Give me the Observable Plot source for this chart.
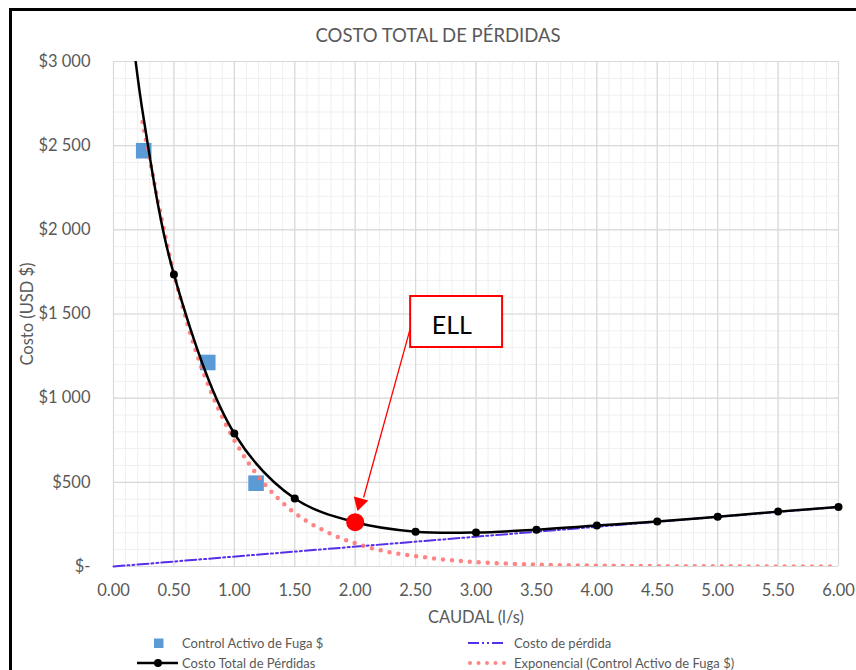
<!DOCTYPE html>
<html>
<head>
<meta charset="utf-8">
<script src="https://cdn.jsdelivr.net/npm/d3@7"></script>
<script src="https://cdn.jsdelivr.net/npm/@observablehq/plot@0.6"></script>
<style>
  body { margin: 0; background: #fff; font-family: Lato, "Open Sans", sans-serif; }
  #wrap { position: relative; width: 856px; height: 670px; overflow: hidden; background: #fff; }
  #border { position: absolute; left: 9px; top: 8px; width: 900px; height: 700px; border-left: 3px solid #000; border-top: 3px solid #000; }
  #title { position: absolute; left: 10px; width: 856px; top: 24px; text-align: center; font-size: 18.5px; color: #595959; line-height: 22px; }
  #chart { position: absolute; left: 0; top: 50px; }
  .leg { position: absolute; font-size: 13px; color: #595959; line-height: 16px; white-space: nowrap; }
  .leg svg { position: absolute; }
</style>
</head>
<body>
<div id="wrap">
  <div id="border"></div>
  <div id="title">COSTO TOTAL DE PÉRDIDAS</div>
  <div id="chart"></div>
  <div id="legend"></div>
</div>
<script>
// ---- data ----
const controlX = [0.25, 0.78, 1.18];
const controlY = [2470, 1212, 495];

const totalX = [0.15, 0.25, 0.5, 1.0, 1.5, 2.0, 2.5, 3.0, 3.5, 4.0, 4.5, 5.0, 5.5, 6.0];
const totalY = [3200, 2660, 1735, 790, 404, 263, 207, 202, 219, 243, 267, 296, 326, 354];
const totalMarkerX = [0.5, 1.0, 1.5, 2.5, 3.0, 3.5, 4.0, 4.5, 5.0, 5.5, 6.0];
const totalMarkerY = [1735, 790, 404, 207, 202, 219, 243, 267, 296, 326, 354];

const lossX = [0, 6];
const lossY = [0, 354];

const trendX = [0.24, 0.5, 0.75, 1.0, 1.25, 1.5, 1.75, 2.0, 2.25, 2.5, 2.75, 3.0, 3.5, 4.0, 4.5, 5.0, 5.5, 6.0];
const trendY = [2640, 1740, 1140, 750, 490, 318, 210, 138, 90, 62, 40, 26, 11, 5, 2, 1, 0.5, 0];

const ellX = [2.0];
const ellY = [263];

const xTicks = [0, 0.5, 1, 1.5, 2, 2.5, 3, 3.5, 4, 4.5, 5, 5.5, 6];
const yTicks = [0, 500, 1000, 1500, 2000, 2500, 3000];

const titleText = "COSTO TOTAL DE PÉRDIDAS";
const xLabel = "CAUDAL (l/s)";
const yLabel = "Costo (USD $)";
const legendLabels = ["Control Activo de Fuga $", "Costo de pérdida", "Costo Total de Pérdidas", "Exponencial (Control Activo de Fuga $)"];

// annotation (callout box + arrow) in data coordinates
const boxX = [2.459, 3.22];
const boxY = [1301, 1604];
const boxText = "ELL";
const boxTextPos = [2.80, 1429];
const arrowFrom = [2.459, 1422];
const arrowTo = [2.07, 410];
const arrowHead = [2.039, 379];

// ---- build ----
const zip = (xs, ys) => xs.map((x, i) => ({x, y: ys[i]}));
const control = zip(controlX, controlY);
const total = zip(totalX, totalY);
const totalMarkers = zip(totalMarkerX, totalMarkerY);
const loss = zip(lossX, lossY);
const trend = zip(trendX, trendY);
const ell = zip(ellX, ellY);

const minorX = d3.range(0, 61).map(i => i / 10);
const minorY = d3.range(0, 31).map(i => i * 100);

const fmtY = d => d === 0 ? "$-" : "$" + d3.format(",")(d).replace(/,/g, " ");

const chart = Plot.plot({
  width: 856,
  height: 576,
  marginLeft: 113,
  marginRight: 18,
  marginTop: 11,
  marginBottom: 60,
  style: { fontFamily: "Lato, 'Open Sans', sans-serif", color: "#595959", background: "transparent", overflow: "visible" },
  x: { domain: [0, 6] },
  y: { domain: [0, 3000] },
  marks: [
    Plot.ruleX(minorX, { stroke: "#efefef", strokeWidth: 1 }),
    Plot.ruleY(minorY, { stroke: "#efefef", strokeWidth: 1 }),
    Plot.ruleX(xTicks, { stroke: "#d9d9d9", strokeWidth: 1.2 }),
    Plot.ruleY(yTicks, { stroke: "#d9d9d9", strokeWidth: 1.2 }),
    Plot.axisX({ ticks: xTicks, tickFormat: d => d.toFixed(2), tickSize: 0, tickPadding: 18, fontSize: 16.5,
                 label: xLabel, labelAnchor: "center", labelArrow: "none", labelOffset: 56 }),
    Plot.axisY({ ticks: yTicks, tickFormat: fmtY, tickSize: 0, tickPadding: 23, fontSize: 16.5,
                 label: yLabel, labelAnchor: "center", labelArrow: "none", labelOffset: 92 }),
    Plot.dot(control, { x: "x", y: "y", symbol: "square", r: 8.8, fill: "#5b9bd5", stroke: null }),
    Plot.line(loss, { x: "x", y: "y", stroke: "#5530e8", strokeWidth: 2, strokeDasharray: "11,3,2,3,2,3" }),
    Plot.line(trend, { x: "x", y: "y", curve: "catmull-rom", stroke: "#ff7070", strokeOpacity: 0.85, strokeWidth: 4.5, strokeLinecap: "round", strokeDasharray: "0,9", clip: true }),
    Plot.line(total, { x: "x", y: "y", curve: "catmull-rom", stroke: "#000", strokeWidth: 2.5, clip: true }),
    Plot.dot(totalMarkers, { x: "x", y: "y", r: 4, fill: "#000", stroke: null }),
    Plot.dot(ell, { x: "x", y: "y", r: 9, fill: "#ff0000", stroke: null }),
    Plot.link([0], { x1: () => arrowFrom[0], y1: () => arrowFrom[1], x2: () => arrowTo[0], y2: () => arrowTo[1], stroke: "#ff0000", strokeWidth: 1.3 }),
    Plot.dot([0], { x: () => arrowHead[0], y: () => arrowHead[1], symbol: "triangle", r: 5.6, rotate: 196, fill: "#ff0000", stroke: null }),
    Plot.rect([0], { x1: () => boxX[0], x2: () => boxX[1], y1: () => boxY[0], y2: () => boxY[1], fill: "#fff", stroke: "#ff0000", strokeWidth: 2 }),
    Plot.text([boxText], { x: () => boxTextPos[0], y: () => boxTextPos[1], text: d => d, fontSize: 25, fill: "#000" })
  ]
});
document.getElementById("chart").appendChild(chart);
document.getElementById("title").textContent = titleText;

// ---- legend (below the chart) ----
const legend = document.getElementById("legend");
const items = [
  { label: legendLabels[0], sym: "square", x: 182, y: 643, sx: 148 },
  { label: legendLabels[1], sym: "loss", x: 514, y: 643, sx: 466 },
  { label: legendLabels[2], sym: "total", x: 182, y: 663, sx: 135 },
  { label: legendLabels[3], sym: "trend", x: 514, y: 663, sx: 466 }
];
const ns = "http://www.w3.org/2000/svg";
for (const it of items) {
  const t = document.createElement("div");
  t.className = "leg";
  t.style.left = it.x + "px";
  t.style.top = (it.y - 8) + "px";
  t.textContent = it.label;
  legend.appendChild(t);
  const s = document.createElementNS(ns, "svg");
  s.setAttribute("width", 46);
  s.setAttribute("height", 14);
  s.style.position = "absolute";
  s.style.left = it.sx + "px";
  s.style.top = (it.y - 7) + "px";
  let inner = "";
  if (it.sym === "square") inner = `<rect x="6" y="2.5" width="9.5" height="9.5" fill="#5b9bd5"/>`;
  if (it.sym === "total") inner = `<line x1="2" x2="43" y1="7" y2="7" stroke="#000" stroke-width="2.5"/><circle cx="23" cy="7" r="4" fill="#000"/>`;
  if (it.sym === "loss") inner = `<line x1="2" x2="40" y1="7" y2="7" stroke="#5530e8" stroke-width="2" stroke-dasharray="11,3,2,3,2,3"/>`;
  if (it.sym === "trend") inner = `<line x1="4" x2="42" y1="7" y2="7" stroke="#ff7070" stroke-opacity="0.85" stroke-width="4" stroke-linecap="round" stroke-dasharray="0,8.5"/>`;
  s.innerHTML = inner;
  legend.appendChild(s);
}
</script>
</body>
</html>
